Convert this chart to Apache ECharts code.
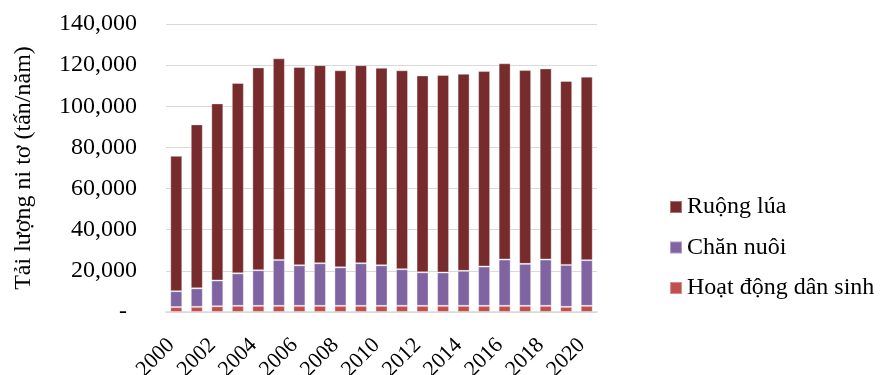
<!DOCTYPE html>
<html>
<head>
<meta charset="utf-8">
<script src="https://cdn.jsdelivr.net/npm/echarts@6/dist/echarts.min.js"></script>
<style>
  html, body { margin: 0; padding: 0; background: #fff; }
  #chart { width: 881px; height: 375px; }
</style>
</head>
<body>
<div id="chart"></div>
<script>
// Nitrogen load by source, tonnes per year
const years = ['2000','2001','2002','2003','2004','2005','2006','2007','2008','2009','2010',
               '2011','2012','2013','2014','2015','2016','2017','2018','2019','2020'];
const danSinh = [2400,2500,2800,3000,3000,3000,3000,3000,3000,3000,3000,
                 3000,3000,3000,3000,3000,3000,3000,3000,2500,3000];
const chanNuoi = [7700,9000,12500,15800,17300,22300,19700,20700,18700,20700,19700,
                  17800,16300,16200,17000,19100,22500,20400,22500,20400,22200];
const ruongLua = [65800,79700,86100,92500,98600,98000,96400,96300,95800,96300,96000,
                  96700,95700,96000,95800,95000,95400,94200,92900,89400,89200];
const seriesNames = ['Ruộng lúa', 'Chăn nuôi', 'Hoạt động dân sinh'];
const yTicks = { min: 0, max: 140000, step: 20000 };

const FONT = '"Liberation Serif", "Times New Roman", serif';
const chart = echarts.init(document.getElementById('chart'), null, { renderer: 'canvas' });

const barStyle = (color) => ({
  color: color,
  borderColor: 'rgba(255,255,255,0.35)',
  borderWidth: 1
});

chart.setOption({
  animation: false,
  textStyle: { fontFamily: FONT },
  grid: { left: 166, right: 284, top: 24, bottom: 63, outerBoundsMode: 'none', containLabel: false },
  legend: {
    orient: 'vertical',
    left: 669,
    top: 195,
    padding: 0,
    itemWidth: 12,
    itemHeight: 12,
    itemGap: 16.5,
    icon: 'rect',
    data: seriesNames,
    textStyle: { fontFamily: FONT, fontSize: 24, color: '#000' }
  },
  xAxis: {
    type: 'category',
    data: years,
    axisTick: { show: false },
    axisLine: { lineStyle: { color: '#d9d9d9', width: 1.5 } },
    axisLabel: {
      interval: 1,
      rotate: 45,
      margin: 25,
      padding: [0, 7, 0, 0],
      color: '#000',
      fontFamily: FONT,
      fontSize: 22
    }
  },
  yAxis: {
    type: 'value',
    min: yTicks.min,
    max: yTicks.max,
    interval: yTicks.step,
    name: 'Tải lượng ni tơ (tấn/năm)',
    nameLocation: 'middle',
    nameGap: 130,
    nameTextStyle: { fontFamily: FONT, fontSize: 24, color: '#000' },
    axisLine: { show: false },
    axisTick: { show: false },
    splitLine: { lineStyle: { color: '#d9d9d9', width: 1.2 } },
    axisLabel: {
      margin: 29,
      color: '#000',
      fontFamily: FONT,
      fontSize: 24,
      formatter: (v) => v === 0 ? '{z|-}' : v.toLocaleString('en-US'),
      rich: { z: { fontFamily: FONT, fontSize: 24, color: '#000', padding: [0, 10, 0, 0] } }
    }
  },
  series: [
    { name: 'Hoạt động dân sinh', type: 'bar', stack: 'n', barWidth: 12,
      itemStyle: barStyle('#c0504d'), data: danSinh },
    { name: 'Chăn nuôi', type: 'bar', stack: 'n', barWidth: 12,
      itemStyle: barStyle('#8064a2'), data: chanNuoi },
    { name: 'Ruộng lúa', type: 'bar', stack: 'n', barWidth: 12,
      itemStyle: barStyle('#772b2c'), data: ruongLua }
  ]
});
</script>
</body>
</html>
